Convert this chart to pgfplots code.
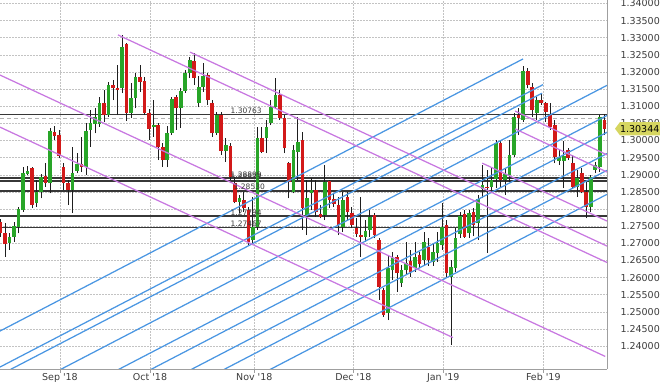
\documentclass[border=0pt]{standalone}
\usepackage{fontspec}
\setmainfont{DejaVu Sans}
\usepackage{pgfplots}
\usepackage{pgfplotstable}
\pgfplotsset{compat=1.18}
\definecolor{upc}{RGB}{40,165,40}
\definecolor{dnc}{RGB}{210,25,25}
\definecolor{wickc}{RGB}{30,30,30}
\definecolor{bluel}{RGB}{74,150,226}
\definecolor{violetl}{RGB}{200,120,225}
\definecolor{hline}{RGB}{55,55,55}
\definecolor{gridc}{RGB}{195,195,195}
\definecolor{pricebox}{RGB}{214,214,96}
\definecolor{labc}{RGB}{60,60,60}

% rising candles (close above open)
\pgfplotstableread{
k o h l c
2 1.2702 1.2729 1.2681 1.2719
3 1.2719 1.2763 1.2705 1.2750
4 1.2747 1.2807 1.2729 1.2801
5 1.2797 1.2924 1.2792 1.2904
6 1.2902 1.2926 1.2899 1.2912
8 1.2817 1.2885 1.2807 1.2851
9 1.2851 1.2902 1.2831 1.2893
11 1.2875 1.3036 1.2846 1.3028
16 1.2856 1.2982 1.2788 1.2906
17 1.2912 1.2963 1.2904 1.2931
19 1.2924 1.3050 1.2899 1.3029
20 1.3031 1.3089 1.2982 1.3050
21 1.3049 1.3094 1.3021 1.3070
22 1.3049 1.3128 1.3040 1.3109
24 1.3074 1.3172 1.3070 1.3162
27 1.3152 1.3308 1.3138 1.3274
29 1.3079 1.3167 1.3065 1.3123
30 1.3123 1.3198 1.3094 1.3186
34 1.3040 1.3118 1.3011 1.3045
37 1.2943 1.3043 1.2922 1.3023
38 1.3023 1.3126 1.3016 1.3120
40 1.3094 1.3152 1.3036 1.3145
41 1.3145 1.3206 1.3139 1.3196
42 1.3196 1.3243 1.3182 1.3235
44 1.3110 1.3188 1.3097 1.3157
45 1.3157 1.3225 1.3142 1.3188
48 1.3023 1.3084 1.3016 1.3074
50 1.2970 1.3006 1.2938 1.2987
53 1.2821 1.2841 1.2788 1.2831
56 1.2710 1.2836 1.2700 1.2749
57 1.2749 1.3040 1.2739 1.3006
59 1.3006 1.3060 1.2963 1.3040
60 1.3050 1.3118 1.3045 1.3099
61 1.3099 1.3182 1.3094 1.3133
65 1.2851 1.2987 1.2846 1.2972
66 1.2967 1.3070 1.2885 1.2997
68 1.2783 1.2885 1.2724 1.2831
69 1.2846 1.2890 1.2797 1.2856
72 1.2783 1.2929 1.2768 1.2880
76 1.2749 1.2851 1.2734 1.2826
81 1.2719 1.2768 1.2705 1.2737
82 1.2739 1.2797 1.2719 1.2778
86 1.2496 1.2666 1.2476 1.2627
87 1.2621 1.2675 1.2593 1.2656
89 1.2583 1.2637 1.2574 1.2621
90 1.2621 1.2705 1.2608 1.2643
92 1.2627 1.2705 1.2617 1.2659
94 1.2651 1.2734 1.2637 1.2705
96 1.2646 1.2701 1.2634 1.2675
97 1.2671 1.2734 1.2646 1.2700
98 1.2695 1.2817 1.2681 1.2749
100 1.2603 1.2651 1.2403 1.2632
101 1.2628 1.2745 1.2616 1.2716
102 1.2727 1.2791 1.2716 1.2780
104 1.2730 1.2797 1.2716 1.2788
106 1.2758 1.2841 1.2710 1.2829
107 1.2858 1.2929 1.2831 1.2870
109 1.2865 1.2920 1.2846 1.2885
110 1.2887 1.3002 1.2861 1.2992
112 1.2885 1.2920 1.2841 1.2902
113 1.2899 1.3002 1.2879 1.2957
114 1.2957 1.3079 1.2953 1.3070
116 1.3060 1.3218 1.3055 1.3203
119 1.3079 1.3128 1.3060 1.3118
124 1.2940 1.2972 1.2929 1.2953
125 1.2940 1.2999 1.2861 1.2955
128 1.2865 1.2914 1.2836 1.2890
131 1.2807 1.2899 1.2792 1.2894
132 1.2914 1.2938 1.2904 1.2929
133 1.2924 1.3074 1.2909 1.3070
}\upcandles

% falling candles (close below open)
\pgfplotstableread{
k o h l c
0 1.2763 1.2770 1.2719 1.2729
1 1.2729 1.2758 1.2661 1.2698
7 1.2919 1.2924 1.2802 1.2812
10 1.2896 1.2934 1.2865 1.2875
12 1.3026 1.3043 1.3002 1.3013
13 1.3016 1.3031 1.2948 1.2955
14 1.2924 1.2935 1.2856 1.2875
15 1.2875 1.2885 1.2812 1.2856
18 1.2931 1.3010 1.2908 1.2924
23 1.3109 1.3147 1.3055 1.3074
25 1.3162 1.3177 1.3118 1.3152
26 1.3154 1.3220 1.3074 1.3147
28 1.3281 1.3285 1.3058 1.3079
31 1.3186 1.3220 1.3142 1.3172
32 1.3175 1.3186 1.3074 1.3081
33 1.3079 1.3091 1.3002 1.3033
35 1.3045 1.3050 1.2943 1.2982
36 1.2982 1.2992 1.2924 1.2943
39 1.3126 1.3133 1.3031 1.3094
43 1.3233 1.3256 1.3162 1.3182
46 1.3191 1.3196 1.3104 1.3118
47 1.3110 1.3118 1.3011 1.3021
49 1.3074 1.3084 1.2957 1.2970
51 1.2984 1.2992 1.2885 1.2894
52 1.2875 1.2894 1.2817 1.2821
54 1.2826 1.2851 1.2792 1.2802
55 1.2797 1.2807 1.2695 1.2705
58 1.3006 1.3040 1.2963 1.2967
62 1.3133 1.3147 1.3060 1.3065
63 1.3065 1.3074 1.2963 1.2977
64 1.2934 1.2938 1.2831 1.2880
67 1.3002 1.3025 1.2739 1.2803
70 1.2856 1.2885 1.2778 1.2792
71 1.2786 1.2812 1.2773 1.2778
73 1.2883 1.2885 1.2802 1.2826
74 1.2828 1.2846 1.2807 1.2815
75 1.2812 1.2836 1.2724 1.2754
77 1.2836 1.2851 1.2768 1.2792
78 1.2788 1.2807 1.2744 1.2754
79 1.2744 1.2773 1.2719 1.2727
80 1.2724 1.2836 1.2661 1.2719
83 1.2783 1.2788 1.2715 1.2724
84 1.2710 1.2715 1.2535 1.2574
85 1.2564 1.2569 1.2486 1.2491
88 1.2661 1.2666 1.2559 1.2613
91 1.2648 1.2681 1.2602 1.2616
93 1.2666 1.2675 1.2627 1.2640
95 1.2689 1.2716 1.2634 1.2651
99 1.2754 1.2768 1.2603 1.2613
103 1.2786 1.2797 1.2716 1.2719
105 1.2792 1.2803 1.2721 1.2754
108 1.2865 1.2914 1.2672 1.2861
111 1.2992 1.3002 1.2861 1.2885
115 1.3074 1.3094 1.3016 1.3065
117 1.3203 1.3213 1.3152 1.3162
118 1.3157 1.3167 1.3070 1.3089
120 1.3118 1.3138 1.3104 1.3109
121 1.3109 1.3113 1.3055 1.3084
122 1.3074 1.3109 1.3031 1.3040
123 1.3045 1.3060 1.2934 1.2953
126 1.2972 1.2977 1.2943 1.2948
127 1.2934 1.2957 1.2861 1.2865
129 1.2904 1.2919 1.2846 1.2851
130 1.2851 1.2880 1.2773 1.2807
134 1.3060 1.3077 1.3016 1.30344
}\dncandles

\begin{document}
\begin{tikzpicture}
\useasboundingbox (0,0) rectangle (660pt,385pt);
\begin{axis}[
  at={(0pt,385pt)}, anchor=north west,
  scale only axis, width=607pt, height=369pt,
  xmin=-0.11, xmax=134.6, ymin=1.23333, ymax=1.3410,
  axis x line*=bottom, axis y line*=right,
  axis line style={draw=gray!75, line width=0.6pt},
  xtick={13.2,33.18,56.32,78.3,98.27,120.46},
  xticklabels={Sep \textquotesingle18,Oct \textquotesingle18,Nov \textquotesingle18,Dec \textquotesingle18,Jan \textquotesingle19,Feb \textquotesingle19},
  ytick={1.24,1.245,1.25,1.255,1.26,1.265,1.27,1.275,1.28,1.285,1.29,1.295,1.30,1.305,1.31,1.315,1.32,1.325,1.33,1.335,1.34},
  scaled y ticks=false,
  yticklabel style={/pgf/number format/fixed, /pgf/number format/fixed zerofill, /pgf/number format/precision=5, /pgf/number format/assume math mode=true, xshift=6pt},
  ticklabel style={font=\fontsize{9.5}{11}\selectfont, text=labc},
  xticklabel style={yshift=3.5pt},
  ytick style={draw=none},
  xtick style={draw=gray!75, line width=0.6pt},
  tick align=outside, major tick length=4pt,
  grid=major,
  grid style={draw=gridc, line width=0.55pt, dash pattern=on 1.5pt off 1.5pt},
]
% dashed price line
\addplot[forget plot, draw=gray!60, line width=0.6pt, dash pattern=on 4pt off 3pt] coordinates {(-0.11,1.30648) (134.6,1.30648)};
% horizontal levels
\addplot[forget plot, draw=hline, line width=1.6pt] coordinates {(-0.11,1.30763) (134.6,1.30763)};
\addplot[forget plot, draw=hline, line width=1.6pt] coordinates {(-0.11,1.28899) (134.6,1.28899)};
\addplot[forget plot, draw=hline, line width=1.6pt] coordinates {(-0.11,1.28823) (134.6,1.28823)};
\addplot[forget plot, draw=hline, line width=1.6pt] coordinates {(-0.11,1.28530) (134.6,1.28530)};
\addplot[forget plot, draw=hline, line width=1.6pt] coordinates {(-0.11,1.27794) (134.6,1.27794)};
\addplot[forget plot, draw=hline, line width=1.6pt] coordinates {(-0.11,1.27467) (134.6,1.27467)};
% wicks
\addplot[forget plot, draw=none, mark=none,
  error bars/.cd, y dir=plus, y explicit, error mark=none,
  error bar style={draw=wickc, line width=1pt}]
  table[x=k, y=l, y error plus expr=\thisrow{h}-\thisrow{l}] {\upcandles};
\addplot[forget plot, draw=none, mark=none,
  error bars/.cd, y dir=plus, y explicit, error mark=none,
  error bar style={draw=wickc, line width=1pt}]
  table[x=k, y=l, y error plus expr=\thisrow{h}-\thisrow{l}] {\dncandles};
% bodies
\addplot[forget plot, draw=none, mark=none,
  error bars/.cd, y dir=plus, y explicit, error mark=none,
  error bar style={draw=upc, line width=3.6pt, line cap=butt}]
  table[x=k, y=o, y error plus expr=\thisrow{c}-\thisrow{o}] {\upcandles};
\addplot[forget plot, draw=none, mark=none,
  error bars/.cd, y dir=plus, y explicit, error mark=none,
  error bar style={draw=dnc, line width=3.6pt, line cap=butt}]
  table[x=k, y=c, y error plus expr=\thisrow{o}-\thisrow{c}] {\dncandles};
% rising (blue) channel lines
\addplot[forget plot, draw=bluel, line width=1.25pt] coordinates {(-0.11,1.2444) (115.96,1.3238)};
\addplot[forget plot, draw=bluel, line width=1.25pt] coordinates {(-0.11,1.2339) (120.4,1.3163)};
\addplot[forget plot, draw=bluel, line width=1.25pt] coordinates {(-0.11,1.2316) (120.17,1.3138)};
\addplot[forget plot, draw=bluel, line width=1.25pt] coordinates {(-0.11,1.2240) (134.6,1.3161)};
\addplot[forget plot, draw=bluel, line width=1.25pt] coordinates {(-0.11,1.2152) (134.6,1.3073)};
\addplot[forget plot, draw=bluel, line width=1.25pt] coordinates {(-0.11,1.2103) (134.6,1.3024)};
\addplot[forget plot, draw=bluel, line width=1.25pt] coordinates {(-0.11,1.2042) (134.6,1.2962)};
\addplot[forget plot, draw=bluel, line width=1.25pt] coordinates {(-0.11,1.1992) (134.6,1.2913)};
\addplot[forget plot, draw=bluel, line width=1.25pt] coordinates {(-0.11,1.1922) (134.6,1.2843)};
% falling (violet) channel lines
\addplot[forget plot, draw=violetl, line width=1.25pt] coordinates {(26.08,1.3308) (134.6,1.2644)};
\addplot[forget plot, draw=violetl, line width=1.25pt] coordinates {(42.05,1.3258) (134.6,1.2692)};
\addplot[forget plot, draw=violetl, line width=1.25pt] coordinates {(-0.11,1.3191) (134.2,1.2370)};
\addplot[forget plot, draw=violetl, line width=1.25pt] coordinates {(-0.11,1.3039) (100.4,1.2425)};
\addplot[forget plot, draw=violetl, line width=1.25pt] coordinates {(106.9,1.2934) (134.6,1.2765)};
\addplot[forget plot, draw=violetl, line width=1.25pt] coordinates {(114.2,1.3086) (134.6,1.2958)};
\addplot[forget plot, draw=violetl, line width=1.25pt] coordinates {(114.2,1.3034) (134.6,1.2908)};
% level labels
\begin{scope}[every node/.style={anchor=south west, inner sep=0.6pt, font=\fontsize{7.5}{8}\selectfont, text=labc}]
\node at (axis cs:50.9,1.30763) {1.30763};
\node at (axis cs:50.9,1.28899) {1.28899};
\node at (axis cs:50.9,1.28823) {1.28823};
\node at (axis cs:51.6,1.28530) {1.28530};
\node at (axis cs:50.9,1.27794) {1.27794};
\node at (axis cs:50.9,1.27467) {1.27467};
\end{scope}
\coordinate (pb) at (axis cs:134.6,1.30344);
\end{axis}
\fill[pricebox, shift={(pb)}] (8pt,0) -- (13pt,6.7pt) -- (53pt,6.7pt) -- (53pt,-6.7pt) -- (13pt,-6.7pt) -- cycle;
\node[font=\fontsize{9.5}{11}\selectfont, text=black, inner sep=0pt] at ([xshift=32.7pt]pb) {1.30344};
\end{tikzpicture}
\end{document}
